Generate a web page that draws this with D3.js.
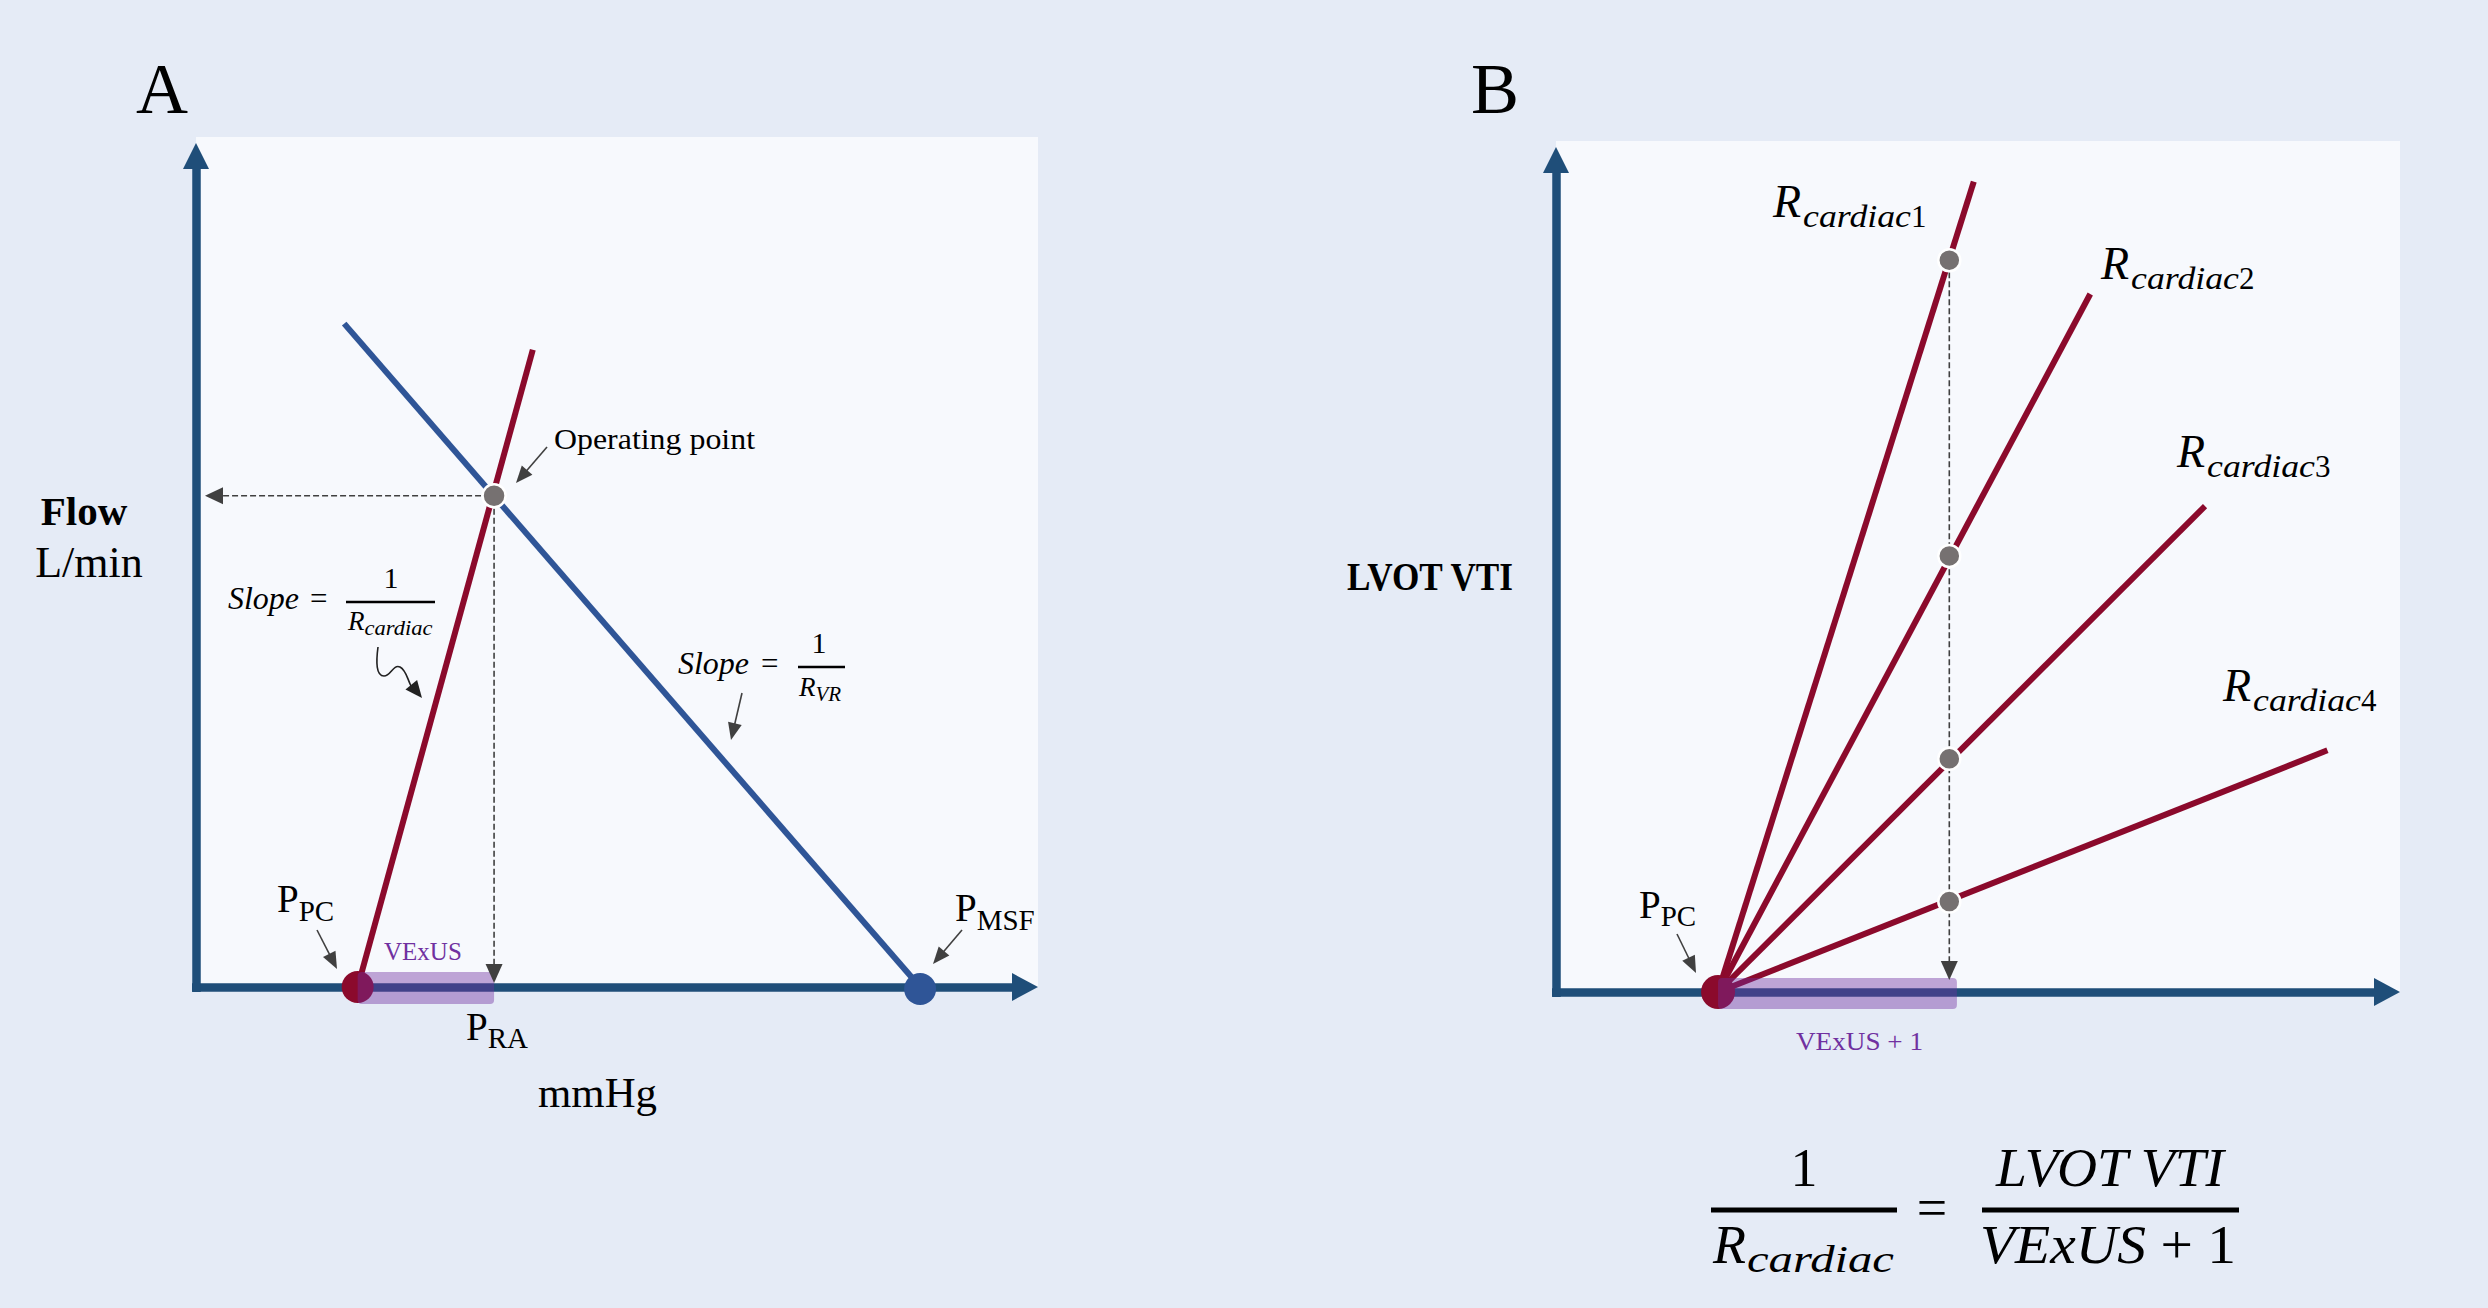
<!DOCTYPE html>
<html><head><meta charset="utf-8">
<script src="https://cdn.jsdelivr.net/npm/d3@7"></script>
<style>html,body{margin:0;padding:0;background:#e5ebf6;} svg{display:block}</style>
</head><body>
<script>
// ---------------- DATA (arbitrary 0-100 units) ----------------
// Panel A : pressure (x) vs flow (y)
const venousReturnX = [17.6, 86.0];     // blue line, ends at P_MSF
const venousReturnY = [78.6, 0];
const cardiacAX = [19.2, 40.0];         // red line, starts at P_PC
const cardiacAY = [0, 75.5];
const operatingPointA = [35.4, 58.2];   // x = P_RA, y = flow
const pressureLabelsA = ["PC", "RA", "MSF"];
const pressureValuesA = [19.2, 35.4, 86.0];
const vexusRangeA = [19.2, 35.4];

// Panel B : VExUS + 1 (x) vs LVOT VTI (y)
const cardiacNamesB = ["cardiac", "cardiac", "cardiac", "cardiac"];
const cardiacIndexB = ["1", "2", "3", "4"];
const ppcB = 19.2;
const cardiacEndXB = [49.5, 63.3, 76.9, 91.4];
const cardiacEndYB = [95.9, 82.6, 57.5, 28.6];
const vexusPlusOneB = 46.6;
const lvotAtVexusB = [86.6, 51.6, 27.6, 10.7];
const vexusRangeB = [19.2, 47.5];

// ---------------- SETUP ----------------
const W = 2488, H = 1308;
const SERIF = "'Liberation Serif','Times New Roman',serif";
const C = {bg:"#e5ebf6", plot:"#f7f9fd", axis:"#1f4e79", red:"#8b0a2c", blue:"#2f5597",
           gray:"#767171", dark:"#404040", purple:"#7030a0"};

const svg = d3.select("body").append("svg").attr("width", W).attr("height", H)
  .style("font-family", SERIF);
svg.append("rect").attr("width", W).attr("height", H).attr("fill", C.bg);

const xA = d3.scaleLinear([0, 100], [196, 1038]);
const yA = d3.scaleLinear([0, 100], [987, 143]);
const xB = d3.scaleLinear([0, 100], [1556, 2400]);
const yB = d3.scaleLinear([0, 100], [992, 147]);

function head(g, x1, y1, x2, y2, len, wid, color) {
  const a = Math.atan2(y2 - y1, x2 - x1);
  const bx = x2 - Math.cos(a) * len, by = y2 - Math.sin(a) * len;
  const px = -Math.sin(a) * wid / 2, py = Math.cos(a) * wid / 2;
  g.append("path").attr("d", `M${x2},${y2}L${bx + px},${by + py}L${bx - px},${by - py}Z`)
    .attr("fill", color);
}
function arrow(g, x1, y1, x2, y2, o = {}) {
  const len = o.len || 16, wid = o.wid || 14, color = o.color || C.dark;
  const a = Math.atan2(y2 - y1, x2 - x1);
  const ex = x2 - Math.cos(a) * len * 0.8, ey = y2 - Math.sin(a) * len * 0.8;
  const l = g.append("line").attr("x1", x1).attr("y1", y1).attr("x2", ex).attr("y2", ey)
    .attr("stroke", color).attr("stroke-width", o.sw || 1.6);
  if (o.dash) l.attr("stroke-dasharray", o.dash);
  head(g, x1, y1, x2, y2, len, wid, color);
}
function txt(g, x, y, s, o = {}) {
  const t = g.append("text").attr("x", x).attr("y", y).text(s)
    .attr("font-size", o.size || 30).attr("fill", o.fill || "#000")
    .attr("text-anchor", o.anchor || "start");
  if (o.italic) t.attr("font-style", "italic");
  if (o.bold) t.attr("font-weight", "bold");
  if (o.tl) t.attr("textLength", o.tl).attr("lengthAdjust", "spacingAndGlyphs");
  return t;
}
function subLabel(g, x, y, main, sub, o = {}) {
  const t = g.append("text").attr("x", x).attr("y", y).attr("fill", "#000");
  t.append("tspan").text(main).attr("font-size", o.size);
  const s = t.append("tspan").text(sub).attr("font-size", o.subSize).attr("dy", o.dy);
  if (o.subX != null) s.attr("x", o.subX);
  if (o.italic) t.attr("font-style", "italic");
  if (o.subTL) s.attr("textLength", o.subTL).attr("lengthAdjust", "spacingAndGlyphs");
  if (o.tail) t.append("tspan").text(o.tail).attr("font-size", o.subSize).attr("font-style", "normal");
  return t;
}
function axes(g, xs, ys, tipX, tipY) {
  const x0 = xs.range()[0], y0 = ys.range()[0];
  g.append("rect").attr("x", x0).attr("y", tipY - 6).attr("width", tipX - x0).attr("height", y0 - tipY + 6)
    .attr("fill", C.plot);
  const xAxisScale = xs.copy().range([x0 - 4.5, tipX - 14]);
  const yAxisScale = ys.copy().range([y0 + 4.5, tipY + 14]);
  const gx = g.append("g").attr("transform", `translate(0,${y0})`)
    .call(d3.axisBottom(xAxisScale).tickValues([]).tickSizeOuter(0));
  const gy = g.append("g").attr("transform", `translate(${x0},0)`)
    .call(d3.axisLeft(yAxisScale).tickValues([]).tickSizeOuter(0));
  [gx, gy].forEach(a => a.select(".domain").attr("stroke", C.axis).attr("stroke-width", 8.5));
  head(g, x0, y0, tipX, y0, 26, 28, C.axis);
  head(g, x0, y0, x0, tipY, 26, 26, C.axis);
}

// ---------------- PANEL A ----------------
const gA = svg.append("g");
axes(gA, xA, yA, 1038, 143);

const lineGen = (xs, ys) => d3.line().x(d => xs(d[0])).y(d => ys(d[1]));
gA.append("path").datum(d3.zip(venousReturnX, venousReturnY))
  .attr("d", lineGen(xA, yA)).attr("stroke", C.blue).attr("stroke-width", 6).attr("fill", "none");
gA.append("path").datum(d3.zip(cardiacAX, cardiacAY))
  .attr("d", lineGen(xA, yA)).attr("stroke", C.red).attr("stroke-width", 6).attr("fill", "none");

// P_PC (red) and P_MSF (blue) points
gA.append("circle").attr("cx", xA(pressureValuesA[0])).attr("cy", yA(0)).attr("r", 16).attr("fill", C.red);
gA.append("circle").attr("cx", xA(pressureValuesA[2])).attr("cy", yA(0) + 2).attr("r", 16).attr("fill", C.blue);
// VExUS band
gA.append("rect").attr("x", xA(vexusRangeA[0])).attr("y", yA(0) - 15)
  .attr("width", xA(vexusRangeA[1]) - xA(vexusRangeA[0])).attr("height", 32).attr("rx", 4)
  .attr("fill", C.purple).attr("fill-opacity", 0.42);

// dashed projections from operating point
const opx = xA(operatingPointA[0]), opy = yA(operatingPointA[1]);
arrow(gA, opx - 13, opy, xA(0) + 9, opy, {dash: "6,3", len: 18, wid: 17});
arrow(gA, opx, opy + 13, opx, yA(0) - 4, {dash: "6,3", len: 19, wid: 17});
gA.append("circle").attr("cx", opx).attr("cy", opy).attr("r", 11.5)
  .attr("fill", C.gray).attr("stroke", "#fff").attr("stroke-width", 2.5);

// texts A
txt(gA, 136, 113, "A", {size: 72});
txt(gA, 84, 525, "Flow", {size: 41, bold: true, anchor: "middle"});
txt(gA, 89, 577, "L/min", {size: 44, anchor: "middle"});
txt(gA, 538, 1107, "mmHg", {size: 42, tl: 119});
txt(gA, 554, 449, "Operating point", {size: 30, tl: 201});
arrow(gA, 547, 447, 516, 483, {len: 17, wid: 14});

// Slope = 1/R_cardiac
const sA = gA.append("text").attr("x", 228).attr("y", 609).attr("font-size", 31);
sA.append("tspan").text("Slope").attr("font-style", "italic").attr("textLength", 71).attr("lengthAdjust", "spacingAndGlyphs");
sA.append("tspan").text("=").attr("x", 310);
gA.append("line").attr("x1", 346).attr("x2", 435).attr("y1", 602).attr("y2", 602).attr("stroke", "#000").attr("stroke-width", 2.5);
txt(gA, 391, 588, "1", {size: 30, anchor: "middle"});
subLabel(gA, 348, 630, "R", "cardiac", {size: 27, subSize: 21, dy: 5, italic: true, subTL: 68});
gA.append("path").attr("d", "M378,647 C376,662 376,676 384,676 C391,676 393,664 400,667 C406,670 407,678 411,686")
  .attr("fill", "none").attr("stroke", "#222").attr("stroke-width", 1.6);
head(gA, 409, 682, 422, 698, 17, 15, "#222");

// Slope = 1/R_VR
const sB = gA.append("text").attr("x", 678).attr("y", 674).attr("font-size", 31);
sB.append("tspan").text("Slope").attr("font-style", "italic").attr("textLength", 71).attr("lengthAdjust", "spacingAndGlyphs");
sB.append("tspan").text("=").attr("x", 761);
gA.append("line").attr("x1", 798).attr("x2", 845).attr("y1", 667).attr("y2", 667).attr("stroke", "#000").attr("stroke-width", 2.5);
txt(gA, 819, 653, "1", {size: 30, anchor: "middle"});
subLabel(gA, 799, 696, "R", "VR", {size: 27, subSize: 21, dy: 5, italic: true});
arrow(gA, 742, 693, 731, 740, {len: 17, wid: 14});

// pressure labels
txt(gA, 384, 960, "VExUS", {size: 25, fill: C.purple});
subLabel(gA, 277, 912, "P", pressureLabelsA[0], {size: 39, subSize: 29, dy: 9});
arrow(gA, 317, 930, 337, 969, {len: 17, wid: 14});
subLabel(gA, 466, 1040, "P", pressureLabelsA[1], {size: 39, subSize: 29, dy: 8});
subLabel(gA, 955, 921, "P", pressureLabelsA[2], {size: 39, subSize: 29, dy: 9});
arrow(gA, 962, 930, 933, 964, {len: 17, wid: 14});

// ---------------- PANEL B ----------------
const gB = svg.append("g");
axes(gB, xB, yB, 2400, 147);

cardiacNamesB.forEach((n, i) => {
  gB.append("path").datum([[ppcB, 0], [cardiacEndXB[i], cardiacEndYB[i]]])
    .attr("d", lineGen(xB, yB)).attr("stroke", C.red).attr("stroke-width", 6).attr("fill", "none");
});
gB.append("circle").attr("cx", xB(ppcB)).attr("cy", yB(0)).attr("r", 17).attr("fill", C.red);
gB.append("rect").attr("x", xB(vexusRangeB[0])).attr("y", yB(0) - 14)
  .attr("width", xB(vexusRangeB[1]) - xB(vexusRangeB[0])).attr("height", 31).attr("rx", 4)
  .attr("fill", C.purple).attr("fill-opacity", 0.42);

const vx = xB(vexusPlusOneB);
arrow(gB, vx, yB(lvotAtVexusB[0]) + 12, vx, yB(0) - 12, {dash: "6,3", len: 19, wid: 17});
lvotAtVexusB.forEach(v => {
  gB.append("circle").attr("cx", vx).attr("cy", yB(v)).attr("r", 11)
    .attr("fill", C.gray).attr("stroke", "#fff").attr("stroke-width", 2.5);
});

// texts B
txt(gB, 1471, 113, "B", {size: 72});
txt(gB, 1347, 590, "LVOT VTI", {size: 41, bold: true, tl: 166});
const rPos = [[1773, 217], [2101, 279], [2177, 467], [2223, 701]];
cardiacNamesB.forEach((n, i) => {
  subLabel(gB, rPos[i][0], rPos[i][1], "R", n, {size: 46, subSize: 31, dy: 10, italic: true,
    subX: rPos[i][0] + 30, subTL: 108, tail: cardiacIndexB[i]});
});
subLabel(gB, 1639, 918, "P", "PC", {size: 39, subSize: 29, dy: 8});
arrow(gB, 1677, 934, 1696, 973, {len: 17, wid: 14});
txt(gB, 1796, 1050, "VExUS + 1", {size: 26, fill: C.purple, tl: 127});

// formula
txt(gB, 1804, 1186, "1", {size: 54, anchor: "middle"});
gB.append("line").attr("x1", 1711).attr("x2", 1897).attr("y1", 1210).attr("y2", 1210).attr("stroke", "#000").attr("stroke-width", 5);
subLabel(gB, 1713, 1263, "R", "cardiac", {size: 54, subSize: 38, dy: 9, italic: true, subX: 1747, subTL: 147});
txt(gB, 1932, 1226, "=", {size: 54, anchor: "middle"});
gB.append("line").attr("x1", 1982).attr("x2", 2239).attr("y1", 1210).attr("y2", 1210).attr("stroke", "#000").attr("stroke-width", 5);
txt(gB, 2110, 1186, "LVOT VTI", {size: 54, italic: true, anchor: "middle", tl: 228});
const fB = gB.append("text").attr("x", 1980).attr("y", 1263).attr("font-size", 54)
  .attr("textLength", 256).attr("lengthAdjust", "spacingAndGlyphs");
fB.append("tspan").text("VExUS").attr("font-style", "italic");
fB.append("tspan").text(" + 1");
</script>
</body></html>
